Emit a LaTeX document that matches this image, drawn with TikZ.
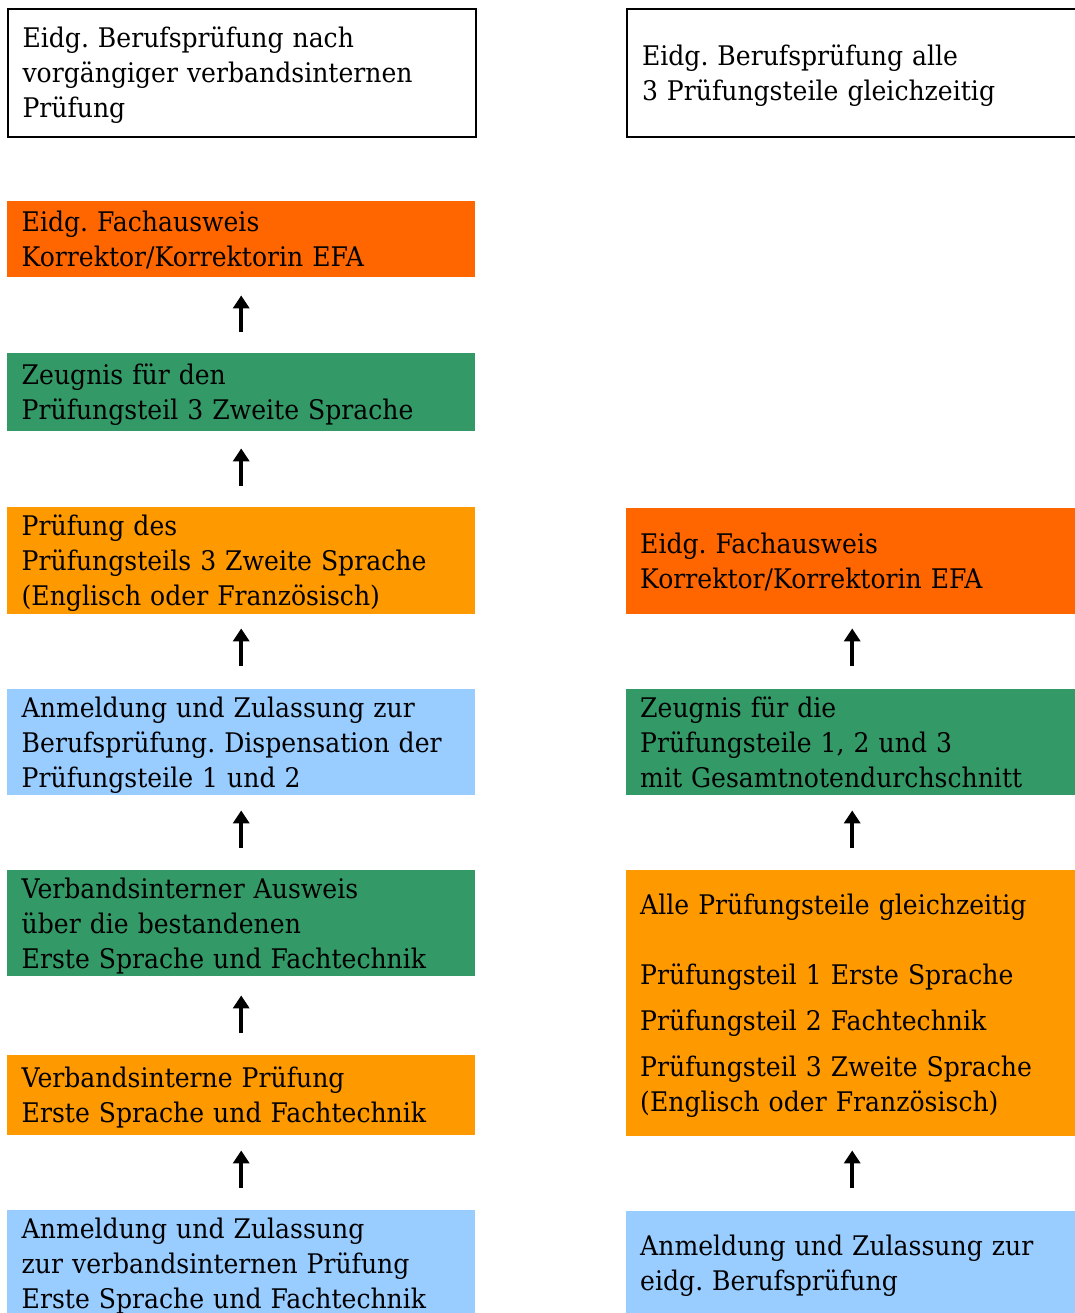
\documentclass[tikz,border=0pt]{standalone}
\usepackage{fontspec}
\setmainfont{DejaVu Serif}[FakeStretch=0.93]
\usetikzlibrary{arrows.meta}
\definecolor{redorange}{HTML}{FF6600}
\definecolor{boxgreen}{HTML}{339966}
\definecolor{boxorange}{HTML}{FF9900}
\definecolor{boxblue}{HTML}{99CCFF}
\newcommand\mystrut{\rule[-7.5pt]{0pt}{35pt}}
\tikzset{
  box/.style={rectangle, anchor=north west, inner ysep=0pt, align=left,
    font=\fontsize{27}{35}\selectfont\frenchspacing},
  lbox/.style={box, inner xsep=14.5pt, minimum width=468pt, text width=439pt},
  rbox/.style={box, inner xsep=14pt, minimum width=452pt, text width=424pt},
  outlined/.style={draw=black, line width=2pt, fill=white},
  arr/.style={line width=4pt, -{Triangle[width=16pt,length=13pt]}}
}
\begin{document}
\frenchspacing
\begin{tikzpicture}[x=1pt,y=-1pt]
\useasboundingbox (0,0) rectangle (1075,1313);
\begin{scope}
\clip (0,0) rectangle (1075,1313);
% top boxes
\node[lbox, outlined, minimum height=128pt] (L1) at (7,8)
  {\mystrut Eidg. Berufsprüfung nach\\\mystrut vorgängiger verbandsinternen\\\mystrut Prüfung};
\node[rbox, outlined, minimum width=454pt, minimum height=128pt] (R1) at (626,8)
  {\mystrut Eidg. Berufsprüfung alle\\\mystrut 3 Prüfungsteile gleichzeitig};
% left column
\node[lbox, fill=redorange, minimum height=76pt] (L2) at (7,201)
  {\mystrut Eidg. Fachausweis\\\mystrut Korrektor/Korrektorin EFA};
\node[lbox, fill=boxgreen, minimum height=78pt] (L3) at (7,353)
  {\mystrut Zeugnis für den\\\mystrut Prüfungsteil 3 Zweite Sprache};
\node[lbox, fill=boxorange, minimum height=107pt] (L4) at (7,507)
  {\mystrut Prüfung des\\\mystrut Prüfungsteils 3 Zweite Sprache\\\mystrut (Englisch oder Französisch)};
\node[lbox, fill=boxblue, minimum height=106pt] (L5) at (7,689)
  {\mystrut Anmeldung und Zulassung zur\\\mystrut Berufsprüfung. Dispensation der\\\mystrut Prüfungsteile 1 und 2};
\node[lbox, fill=boxgreen, minimum height=106pt] (L6) at (7,870)
  {\mystrut Verbandsinterner Ausweis\\\mystrut über die bestandenen\\\mystrut Erste Sprache und Fachtechnik};
\node[lbox, fill=boxorange, minimum height=80pt] (L7) at (7,1055)
  {\mystrut Verbandsinterne Prüfung\\\mystrut Erste Sprache und Fachtechnik};
\node[lbox, fill=boxblue, minimum height=106pt] (L8) at (7,1210)
  {\mystrut Anmeldung und Zulassung\\\mystrut zur verbandsinternen Prüfung\\\mystrut Erste Sprache und Fachtechnik};
% right column
\node[rbox, fill=redorange, minimum height=106pt] (R2) at (626,508)
  {\mystrut Eidg. Fachausweis\\\mystrut Korrektor/Korrektorin EFA};
\node[rbox, fill=boxgreen, minimum height=106pt] (R3) at (626,689)
  {\mystrut Zeugnis für die\\\mystrut Prüfungsteile 1, 2 und 3\\\mystrut mit Gesamtnotendurchschnitt};
\node[rbox, fill=boxorange, minimum height=266pt] (R4) at (626,870)
  {\mystrut Alle Prüfungsteile gleichzeitig\\[35pt]\mystrut Prüfungsteil 1 Erste Sprache\\[11pt]\mystrut Prüfungsteil 2 Fachtechnik\\[11pt]\mystrut Prüfungsteil 3 Zweite Sprache\\\mystrut (Englisch oder Französisch)};
\node[rbox, fill=boxblue, minimum height=104pt] (R5) at (626,1211)
  {\mystrut Anmeldung und Zulassung zur\\\mystrut eidg. Berufsprüfung};
% arrows left
\draw[arr, shorten <=21pt, shorten >=18pt] (L3.north) -- (L2.south);
\draw[arr, shorten <=21pt, shorten >=17pt] (L4.north) -- (L3.south);
\draw[arr, shorten <=23pt, shorten >=14pt] (L5.north) -- (L4.south);
\draw[arr, shorten <=22pt, shorten >=15pt] (L6.north) -- (L5.south);
\draw[arr, shorten <=22pt, shorten >=19pt] (L7.north) -- (L6.south);
\draw[arr, shorten <=22pt, shorten >=15pt] (L8.north) -- (L7.south);
% arrows right
\draw[arr, shorten <=23pt, shorten >=14pt] (R3.north) -- (R2.south);
\draw[arr, shorten <=22pt, shorten >=15pt] (R4.north) -- (R3.south);
\draw[arr, shorten <=23pt, shorten >=14pt] (R5.north) -- (R4.south);
\end{scope}
\end{tikzpicture}
\end{document}
